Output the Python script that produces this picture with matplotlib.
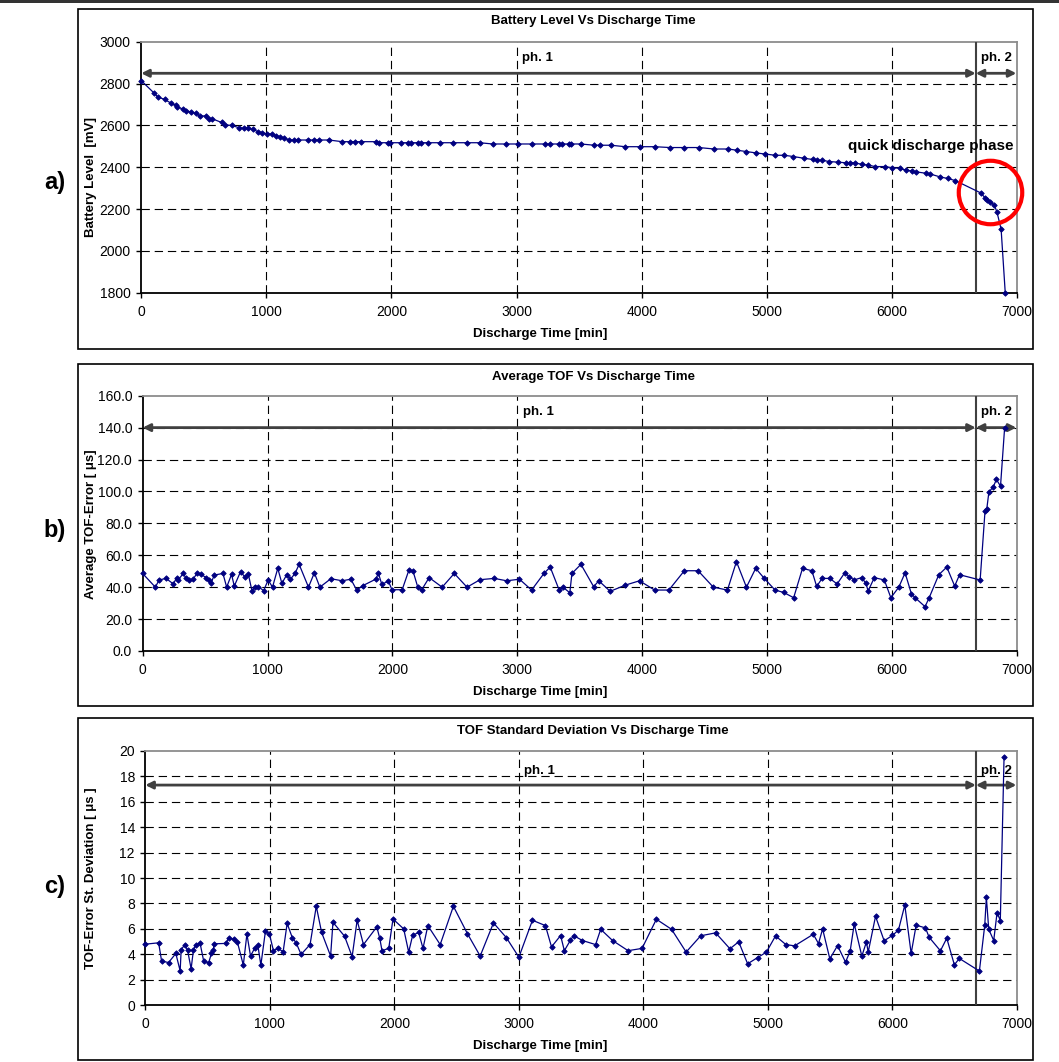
import matplotlib
matplotlib.use("Agg")
import matplotlib.pyplot as plt
from matplotlib.patches import Rectangle
import numpy as np

plt.rcParams['font.family'] = ['Liberation Sans', 'DejaVu Sans']
plt.rcParams['lines.scale_dashes'] = False

# ====== data ======
# a) battery level [mV]
t_a = [0, 102, 132, 187, 242, 275, 289, 331, 358, 399, 441, 468, 515, 543, 565, 642, 672, 722,
       780, 821, 854, 890, 934, 967, 1008, 1047, 1074, 1107, 1143, 1185, 1220, 1256, 1336, 1383,
       1419, 1501, 1606, 1672, 1708, 1758, 1873, 1901, 1970, 1992, 2074, 2135, 2157, 2212, 2237,
       2292, 2391, 2496, 2606, 2705, 2810, 2912, 3011, 3121, 3229, 3265, 3339, 3366, 3416, 3438,
       3512, 3623, 3669, 3755, 3868, 3989, 4105, 4226, 4339, 4457, 4579, 4691, 4763, 4835, 4917,
       4986, 5069, 5140, 5212, 5295, 5366, 5405, 5441, 5501, 5570, 5634, 5667, 5702, 5758, 5807,
       5868, 5945, 5997, 6061, 6110, 6162, 6190, 6273, 6303, 6383, 6446, 6507, 6710, 6743, 6763,
       6782, 6820, 6840, 6873, 6906]
v_a = [2814, 2755, 2736, 2724, 2705, 2696, 2689, 2678, 2669, 2664, 2657, 2645, 2645, 2632, 2632,
       2614, 2602, 2600, 2589, 2586, 2586, 2581, 2570, 2565, 2559, 2559, 2551, 2546, 2539, 2530,
       2530, 2530, 2530, 2530, 2530, 2530, 2522, 2522, 2522, 2522, 2522, 2517, 2517, 2517, 2517,
       2517, 2517, 2517, 2517, 2517, 2517, 2517, 2517, 2517, 2511, 2511, 2511, 2511, 2511, 2511,
       2511, 2511, 2511, 2511, 2511, 2505, 2505, 2505, 2498, 2498, 2498, 2494, 2494, 2494, 2487,
       2487, 2481, 2475, 2468, 2463, 2457, 2457, 2451, 2443, 2437, 2433, 2433, 2427, 2424, 2421,
       2421, 2421, 2414, 2410, 2403, 2403, 2398, 2395, 2386, 2382, 2378, 2371, 2368, 2354, 2346,
       2336, 2277, 2255, 2245, 2236, 2217, 2185, 2104, 1800]

# b) average TOF error [us]
t_b = [0, 102, 132, 188, 246, 273, 284, 326, 348, 375, 403, 436, 469, 508, 533, 547, 574, 643,
       673, 712, 734, 784, 817, 847, 875, 900, 927, 969, 1005, 1040, 1082, 1115, 1154, 1184,
       1220, 1253, 1328, 1375, 1419, 1507, 1598, 1667, 1714, 1764, 1866, 1888, 1915, 1968, 1996,
       2078, 2131, 2164, 2203, 2233, 2294, 2398, 2495, 2597, 2702, 2815, 2915, 3017, 3114, 3213,
       3263, 3335, 3365, 3420, 3437, 3509, 3611, 3652, 3743, 3865, 3978, 4099, 4213, 4337, 4447,
       4569, 4682, 4754, 4834, 4908, 4977, 5063, 5132, 5212, 5283, 5358, 5396, 5440, 5501, 5560,
       5620, 5659, 5695, 5756, 5791, 5808, 5858, 5938, 5990, 6054, 6104, 6154, 6184, 6264, 6297,
       6374, 6438, 6501, 6540, 6705, 6744, 6758, 6775, 6811, 6835, 6868, 6901]
v_b = [48.6, 40.0, 44.5, 45.5, 42.0, 46.0, 44.5, 48.6, 45.5, 44.5, 45.0, 48.6, 48.0, 46.0, 44.5,
       42.4, 47.6, 48.6, 40.0, 48.0, 40.7, 49.7, 46.6, 48.0, 37.8, 40.0, 40.3, 37.8, 44.5, 40.0,
       51.8, 42.4, 47.8, 45.0, 48.6, 54.3, 40.0, 49.0, 40.0, 45.3, 44.0, 45.0, 38.2, 41.0, 45.0,
       48.6, 41.8, 43.8, 38.4, 38.4, 50.5, 50.3, 40.0, 38.2, 46.0, 40.0, 48.6, 40.0, 44.7, 45.5,
       44.0, 45.0, 38.2, 48.6, 52.6, 38.2, 40.0, 36.5, 48.6, 54.3, 40.3, 44.0, 37.4, 41.3, 44.0,
       38.2, 38.2, 50.3, 50.3, 40.0, 38.2, 56.0, 40.0, 51.8, 45.5, 38.2, 36.7, 33.4, 51.8, 50.3,
       40.5, 45.5, 45.5, 42.0, 48.9, 46.6, 44.5, 46.0, 42.4, 37.6, 46.0, 44.5, 33.4, 40.0, 49.0,
       36.0, 33.4, 27.8, 33.4, 47.8, 52.6, 40.7, 47.8, 44.5, 87.7, 89.0, 99.6, 103.0, 107.5,
       103.3, 140.0]

# c) TOF standard deviation [us]
t_c = [0, 107, 131, 187, 245, 280, 288, 317, 339, 368, 387, 408, 440, 469, 509, 531, 547, 552,
       645, 672, 715, 739, 787, 816, 845, 880, 904, 928, 965, 997, 1029, 1064, 1107, 1139, 1181,
       1211, 1251, 1323, 1373, 1416, 1488, 1507, 1600, 1661, 1701, 1752, 1859, 1883, 1901, 1955,
       1989, 2075, 2115, 2147, 2195, 2230, 2269, 2368, 2474, 2586, 2689, 2796, 2899, 3000, 3109,
       3213, 3262, 3335, 3365, 3414, 3439, 3510, 3616, 3657, 3752, 3877, 3989, 4104, 4226, 4343,
       4460, 4580, 4695, 4765, 4837, 4917, 4987, 5061, 5144, 5214, 5364, 5406, 5439, 5497, 5559,
       5623, 5660, 5693, 5754, 5791, 5805, 5864, 5933, 6000, 6048, 6099, 6150, 6190, 6265, 6294,
       6385, 6436, 6497, 6537, 6698, 6741, 6754, 6773, 6813, 6840, 6866, 6896]
v_c = [4.80, 4.91, 3.47, 3.36, 4.07, 2.70, 4.38, 4.75, 4.34, 2.87, 4.38, 4.77, 4.87, 3.47, 3.35,
       4.07, 4.34, 4.83, 4.86, 5.30, 5.17, 4.99, 3.16, 5.59, 3.87, 4.52, 4.70, 3.16, 5.84, 5.59,
       4.29, 4.47, 4.21, 6.43, 5.30, 4.91, 4.00, 4.77, 7.78, 5.72, 3.87, 6.52, 5.43, 3.82, 6.68,
       4.77, 6.16, 5.25, 4.29, 4.47, 6.78, 6.00, 4.18, 5.50, 5.72, 4.47, 6.26, 4.77, 7.78, 5.64,
       3.87, 6.47, 5.32, 3.78, 6.68, 6.26, 4.59, 5.48, 4.29, 5.11, 5.48, 5.09, 4.77, 5.97, 5.09,
       4.29, 4.47, 6.76, 5.97, 4.18, 5.46, 5.69, 4.44, 4.99, 3.26, 3.75, 4.17, 5.45, 4.77, 4.67,
       5.58, 4.85, 6.00, 3.65, 4.69, 3.39, 4.25, 6.39, 3.86, 4.99, 4.17, 6.99, 5.07, 5.49, 5.91,
       7.87, 4.07, 6.29, 6.08, 5.35, 4.28, 5.27, 3.18, 3.68, 2.69, 6.29, 8.48, 5.97, 5.09, 7.28,
       6.66, 19.5]

phase_split = 6670
x_ticks = list(range(0, 7001, 1000))
# ==========================================

W, H = 1059, 1062
fig = plt.figure(figsize=(W / 100, H / 100), dpi=100)


def fx(x):
    return x / W


def fy(y):
    return 1 - y / H


# dark rule along the top edge
fig.add_artist(Rectangle((0, fy(3)), 1, 3 / H, transform=fig.transFigure,
                         color='#333333', lw=0))

NAVY = '#000080'
ARROW = '#404040'

panels = [
    dict(ax=(141.2, 41.7, 1017, 292.7), box=(9.3, 349), t=t_a, v=v_a,
         ylim=(1800, 3000), yticks=range(1800, 3001, 200), fmt='{:.0f}',
         arrow=2849, lab=2921, title='Battery Level Vs Discharge Time', title_y=21,
         ylabel='Battery Level  [mV]', ylabel_y=177, xlabel_y=334, tag='a)', tag_y=183),
    dict(ax=(142.6, 395.7, 1017, 651), box=(364, 705.7), t=t_b, v=v_b,
         ylim=(0, 160), yticks=range(0, 161, 20), fmt='{:.1f}',
         arrow=140, lab=149.7, title='Average TOF Vs Discharge Time', title_y=376.7,
         ylabel='Average TOF-Error [ \u03bcs]', ylabel_y=524, xlabel_y=691.7, tag='b)', tag_y=530),
    dict(ax=(145.3, 750.7, 1017, 1005.3), box=(718.3, 1060), t=t_c, v=v_c,
         ylim=(0, 20), yticks=range(0, 21, 2), fmt='{:.0f}',
         arrow=17.3, lab=18.4, title='TOF Standard Deviation Vs Discharge Time', title_y=730.7,
         ylabel='TOF-Error St. Deviation [ \u03bcs ]', ylabel_y=878, xlabel_y=1045.7, tag='c)', tag_y=886),
]

axes = []
for p in panels:
    l, t, r, b = p['ax']
    # outer chart frame
    bt, bb = p['box']
    fig.add_artist(Rectangle((fx(77.5), fy(bb)), fx(1033) - fx(77.5), (bb - bt) / H,
                             transform=fig.transFigure, fill=False, ec='black', lw=1.2))
    ax = fig.add_axes([fx(l), fy(b), (r - l) / W, (b - t) / H])
    axes.append(ax)
    ax.set_xlim(0, 7000)
    ax.set_ylim(*p['ylim'])
    ax.set_xticks(x_ticks)
    ax.set_yticks(list(p['yticks']))
    ax.set_yticklabels([p['fmt'].format(v) for v in p['yticks']])
    ax.tick_params(direction='out', length=3.5, width=1, labelsize=10, colors='black', pad=4)
    ax.tick_params(axis='x', pad=5)

    # dashed grid, interior lines only
    for xv in x_ticks[1:-1]:
        ax.axvline(xv, color='black', lw=0.8, ls=(0, (6, 3.5)), zorder=1)
    for yv in list(p['yticks'])[1:-1]:
        ax.axhline(yv, color='black', lw=0.8, ls=(0, (6, 3.5)), zorder=1)

    for s in ['top', 'right']:
        ax.spines[s].set_color('#8c8c8c')
        ax.spines[s].set_linewidth(1.3)
    for s in ['left', 'bottom']:
        ax.spines[s].set_color('black')
        ax.spines[s].set_linewidth(1.3)

    ax.plot(p['t'], p['v'], color=NAVY, lw=0.9, marker='D', ms=2.8, mfc=NAVY, mec=NAVY,
            mew=0.6, zorder=4, clip_on=False)

    # phase markers
    ax.axvline(phase_split, color=ARROW, lw=1.5, zorder=3)
    ax.annotate('', xy=(0, p['arrow']), xytext=(phase_split, p['arrow']),
                arrowprops=dict(arrowstyle='<|-|>', color=ARROW, lw=2.0, shrinkA=0, shrinkB=0,
                                mutation_scale=11), annotation_clip=False, zorder=3)
    ax.annotate('', xy=(phase_split, p['arrow']), xytext=(6995, p['arrow']),
                arrowprops=dict(arrowstyle='<|-|>', color=ARROW, lw=2.0, shrinkA=0, shrinkB=0,
                                mutation_scale=11), annotation_clip=False, zorder=3)
    ax.text(3168, p['lab'], 'ph. 1', ha='center', va='center', fontsize=9.5, fontweight='bold')
    ax.text(6838, p['lab'], 'ph. 2', ha='center', va='center', fontsize=9.5, fontweight='bold')

    fig.text(fx(593), fy(p['title_y']), p['title'], ha='center', va='center',
             fontsize=9.5, fontweight='bold')
    fig.text(fx(540), fy(p['xlabel_y']), 'Discharge Time [min]', ha='center', va='center',
             fontsize=9.5, fontweight='bold')
    fig.text(fx(91), fy(p['ylabel_y']), p['ylabel'], ha='center', va='center', rotation=90,
             fontsize=9.5, fontweight='bold')
    fig.text(fx(55), fy(p['tag_y']), p['tag'], ha='center', va='center',
             fontsize=17, fontweight='bold')

# quick discharge annotation on panel a
ax = axes[0]
ax.text(6975, 2503, 'quick discharge phase', ha='right', va='center', fontsize=11,
        fontweight='bold')
ax.plot([6785], [2280], marker='o', ms=45.7, mfc='none', mec='#ff0000', mew=3.0,
        zorder=5, clip_on=False)

fig.savefig('out.png', dpi=100)
